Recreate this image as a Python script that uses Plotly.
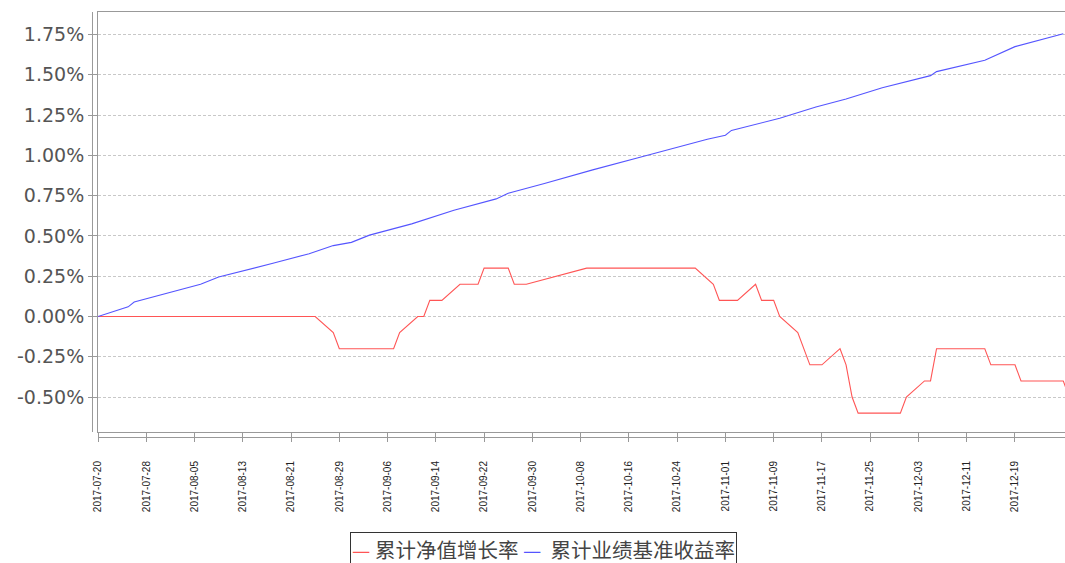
import plotly.graph_objects as go

# Cumulative NAV growth rate (%), breakpoints
nav_dates = ["2017-07-20", "2017-08-25", "2017-08-28", "2017-08-29", "2017-09-07",
             "2017-09-08", "2017-09-11", "2017-09-12", "2017-09-13", "2017-09-15",
             "2017-09-18", "2017-09-21", "2017-09-22", "2017-09-26", "2017-09-27",
             "2017-09-29", "2017-10-09", "2017-10-27", "2017-10-30", "2017-10-31",
             "2017-11-03", "2017-11-06", "2017-11-07", "2017-11-09", "2017-11-10",
             "2017-11-13", "2017-11-15", "2017-11-17", "2017-11-20", "2017-11-21",
             "2017-11-22", "2017-11-23", "2017-11-30", "2017-12-01", "2017-12-04",
             "2017-12-05", "2017-12-06", "2017-12-14", "2017-12-15", "2017-12-19",
             "2017-12-20", "2017-12-27", "2017-12-28"]
nav_values = [0.0, 0.0, -0.1, -0.2, -0.2,
              -0.1, 0.0, 0.0, 0.1, 0.1,
              0.2, 0.2, 0.3, 0.3, 0.2,
              0.2, 0.3, 0.3, 0.2, 0.1,
              0.1, 0.2, 0.1, 0.1, 0.0,
              -0.1, -0.3, -0.3, -0.2, -0.3,
              -0.5, -0.6, -0.6, -0.5, -0.4,
              -0.4, -0.2, -0.2, -0.3, -0.3,
              -0.4, -0.4, -0.5]

# Cumulative benchmark return (%)
bm_dates = ["2017-07-20", "2017-07-25", "2017-07-26", "2017-08-01", "2017-08-06",
            "2017-08-09", "2017-08-14", "2017-08-18", "2017-08-24", "2017-08-28",
            "2017-08-31", "2017-09-03", "2017-09-10", "2017-09-17", "2017-09-24",
            "2017-09-26", "2017-10-02", "2017-10-10", "2017-10-18", "2017-10-24",
            "2017-10-29", "2017-11-01", "2017-11-02", "2017-11-10", "2017-11-16",
            "2017-11-21", "2017-11-27", "2017-12-05", "2017-12-06", "2017-12-14",
            "2017-12-19", "2017-12-27"]
bm_values = [0.0, 0.06, 0.09, 0.15, 0.20,
             0.245, 0.29, 0.33, 0.39, 0.44,
             0.46, 0.505, 0.575, 0.66, 0.73,
             0.765, 0.825, 0.91, 0.99, 1.05,
             1.10, 1.125, 1.155, 1.23, 1.30,
             1.35, 1.42, 1.495, 1.52, 1.59,
             1.675, 1.755]

x_ticks = ["2017-07-20", "2017-07-28", "2017-08-05", "2017-08-13", "2017-08-21",
           "2017-08-29", "2017-09-06", "2017-09-14", "2017-09-22", "2017-09-30",
           "2017-10-08", "2017-10-16", "2017-10-24", "2017-11-01", "2017-11-09",
           "2017-11-17", "2017-11-25", "2017-12-03", "2017-12-11", "2017-12-19"]
y_ticks = [-0.5, -0.25, 0.0, 0.25, 0.5, 0.75, 1.0, 1.25, 1.5, 1.75]
y_labels = [f"{v:.2f}%" for v in y_ticks]

series_names = ["累计净值增长率", "累计业绩基准收益率"]
RED = "#FF5555"
BLUE = "#5555FF"

fig = go.Figure()
fig.add_trace(go.Scatter(x=nav_dates, y=nav_values, mode="lines", name=series_names[0],
                         line=dict(color=RED, width=1.1), showlegend=False))
fig.add_trace(go.Scatter(x=bm_dates, y=bm_values, mode="lines", name=series_names[1],
                         line=dict(color=BLUE, width=1.1), showlegend=False))

fig.update_layout(
    width=1065, height=563,
    margin=dict(l=98, r=0, t=12, b=131, autoexpand=False),
    paper_bgcolor="white", plot_bgcolor="white",
    font=dict(family="DejaVu Sans", color="#444444"),
    xaxis=dict(
        type="date", range=["2017-07-20", "2017-12-27 07:00"],
        tickvals=x_ticks, ticktext=x_ticks, tickangle=-90,
        tickfont=dict(family="Liberation Sans", size=10, color="#222222"),
        showgrid=False, zeroline=False,
        showline=True, linecolor="#999999", linewidth=1, mirror=True,
        ticks="outside", ticklen=9, tickcolor="#999999",
        ticklabelstandoff=15,
    ),
    yaxis=dict(
        range=[-0.717, 1.89],
        tickvals=y_ticks, ticktext=y_labels,
        tickfont=dict(family="DejaVu Sans", size=19, color="#555555"),
        showgrid=True, gridcolor="#C8C8C8", griddash="3px,2px", gridwidth=1,
        zeroline=False,
        showline=True, linecolor="#999999", linewidth=1, mirror=True,
        ticks="outside", ticklen=9, tickcolor="#999999",
    ),
    shapes=[
        dict(type="line", xref="paper", yref="paper", x0=-0.0057, x1=-0.0057, y0=0, y1=1,
             line=dict(color="#999999", width=1)),
        dict(type="line", xref="paper", yref="paper", x0=0, x1=1, y0=-0.0131, y1=-0.0131,
             line=dict(color="#999999", width=1)),
    ],
    annotations=[
        dict(xref="paper", yref="paper", x=0.4606, y=-0.2380, xanchor="center", yanchor="top",
             showarrow=False,
             text=(f"<span style='color:{RED}'>—</span> {series_names[0]} "
                   f"<span style='color:{BLUE}'>—</span>  {series_names[1]}"),
             font=dict(family="Noto Sans CJK SC", size=20.5, color="#444444"),
             bordercolor="#333333", borderwidth=1, borderpad=1, bgcolor="white"),
    ],
)

fig.write_html("out.html", config={"displayModeBar": False},
               post_script="document.body.style.margin='0';document.body.style.overflow='hidden';")
